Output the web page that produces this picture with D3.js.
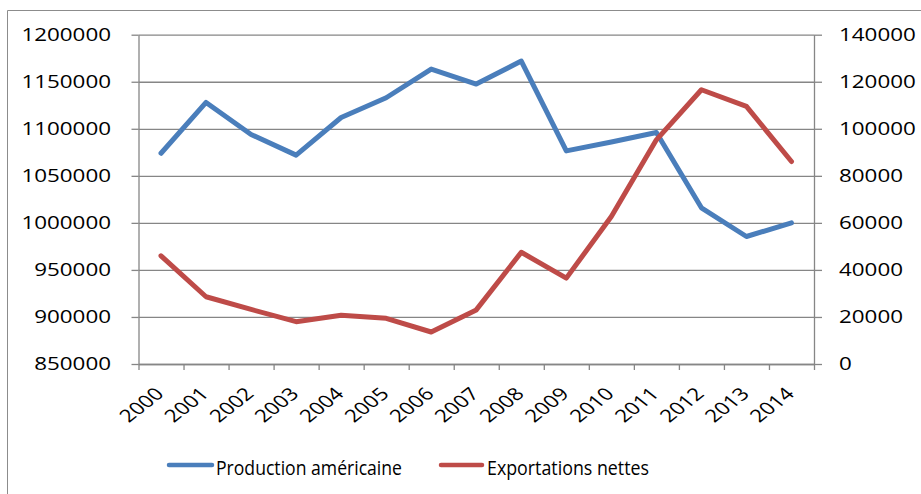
<!DOCTYPE html>
<html>
<head>
<meta charset="utf-8">
<script src="https://cdn.jsdelivr.net/npm/d3@7/dist/d3.min.js"></script>
<style>
  html, body { margin: 0; padding: 0; background: #fff; }
  svg { display: block; }
  text { font-family: "Open Sans", "Noto Sans", sans-serif; fill: #000; }
</style>
</head>
<body>
<svg id="chart" width="921" height="494"></svg>
<script>
// Années (catégories de l'axe horizontal)
const years = ["2000","2001","2002","2003","2004","2005","2006","2007","2008","2009","2010","2011","2012","2013","2014"];

// Production américaine (axe de gauche)
const production = [1074000, 1128000, 1094000, 1072000, 1112000, 1133000, 1163500, 1147500, 1172000, 1076500, 1086000, 1096000, 1016000, 985500, 1000000];

// Exportations nettes (axe de droite)
const exports = [46000, 28600, 23200, 18000, 20700, 19400, 13600, 23000, 47500, 36500, 62700, 95300, 116600, 109500, 86100];

// Graduations des deux axes verticaux
const leftTicks = [850000, 900000, 950000, 1000000, 1050000, 1100000, 1150000, 1200000];
const rightTicks = [0, 20000, 40000, 60000, 80000, 100000, 120000, 140000];

const seriesNames = ["Production américaine", "Exportations nettes"];
const seriesColors = ["#4A7EBB", "#BE4B48"];

const svg = d3.select("#chart");
const plot = { left: 138.5, right: 814, top: 34.7, bottom: 364 };
const stretch = 1.28;   // largeur des caractères
const axisColor = "#868686";

// Cadre extérieur du graphique
svg.append("path")
  .attr("d", "M7.5,494 L7.5,10.5 L921,10.5")
  .attr("fill", "none").attr("stroke", "#8c8c8c").attr("stroke-width", 1);

// Échelles
const x = d3.scaleBand().domain(years).range([plot.left, plot.right]);
const xEdges = d3.scaleLinear().domain([0, years.length]).range([plot.left, plot.right]);
const yL = d3.scaleLinear().domain([850000, 1200000]).range([plot.bottom, plot.top]);
const yR = d3.scaleLinear().domain([0, 140000]).range([plot.bottom, plot.top]);
const cx = d => x(d) + x.bandwidth() / 2;

// Quadrillage horizontal
svg.append("g")
  .attr("transform", `translate(${plot.left},0)`)
  .call(d3.axisLeft(yL).tickValues(leftTicks).tickSize(-(plot.right - plot.left)).tickFormat(""))
  .call(g => g.select(".domain").remove())
  .call(g => g.selectAll("line").attr("stroke", axisColor).attr("stroke-width", 1.3));

// Axe de gauche
svg.append("g")
  .attr("transform", `translate(${plot.left},0)`)
  .call(d3.axisLeft(yL).tickValues(leftTicks).tickSize(7).tickSizeOuter(0).tickFormat(""))
  .call(g => g.select(".domain").attr("stroke", axisColor).attr("stroke-width", 1.3))
  .call(g => g.selectAll("line").attr("stroke", axisColor).attr("stroke-width", 1.3));

// Axe de droite
svg.append("g")
  .attr("transform", `translate(${plot.right},0)`)
  .call(d3.axisRight(yR).tickValues(rightTicks).tickSize(8).tickSizeOuter(0).tickFormat(""))
  .call(g => g.select(".domain").attr("stroke", axisColor).attr("stroke-width", 1.3))
  .call(g => g.selectAll("line").attr("stroke", axisColor).attr("stroke-width", 1.3));

// Axe horizontal : graduations entre les catégories
svg.append("g")
  .attr("transform", `translate(0,${plot.bottom})`)
  .call(d3.axisBottom(xEdges).tickValues(d3.range(years.length + 1)).tickSize(6).tickSizeOuter(0).tickFormat(""))
  .call(g => g.select(".domain").attr("stroke", axisColor).attr("stroke-width", 1.3))
  .call(g => g.selectAll("line").attr("stroke", axisColor).attr("stroke-width", 1.3));

// Étiquettes de l'axe de gauche
svg.append("g").selectAll("text").data(leftTicks).join("text")
  .attr("transform", d => `translate(111,${yL(d)}) scale(${stretch},1)`)
  .attr("dy", "0.36em")
  .attr("text-anchor", "end")
  .attr("font-size", 17.5)
  .text(d => d3.format("d")(d));

// Étiquettes de l'axe de droite
svg.append("g").selectAll("text").data(rightTicks).join("text")
  .attr("transform", d => `translate(839,${yR(d)}) scale(${stretch},1)`)
  .attr("dy", "0.36em")
  .attr("text-anchor", "start")
  .attr("font-size", 17.5)
  .text(d => d3.format("d")(d));

// Années, inclinées à 45°
svg.append("g").selectAll("text").data(years).join("text")
  .attr("transform", d => `translate(${cx(d) + 4},${plot.bottom + 31}) scale(${stretch},1) rotate(-45)`)
  .attr("text-anchor", "end")
  .attr("font-size", 17.5)
  .text(d => d);

// Courbes
const lineL = d3.line().x((d, i) => cx(years[i])).y(d => yL(d));
const lineR = d3.line().x((d, i) => cx(years[i])).y(d => yR(d));

svg.append("path").datum(production)
  .attr("d", lineL)
  .attr("fill", "none").attr("stroke", seriesColors[0])
  .attr("stroke-width", 5).attr("stroke-linejoin", "round").attr("stroke-linecap", "round");

svg.append("path").datum(exports)
  .attr("d", lineR)
  .attr("fill", "none").attr("stroke", seriesColors[1])
  .attr("stroke-width", 5).attr("stroke-linejoin", "round").attr("stroke-linecap", "round");

// Légende
const legendItems = [
  { name: seriesNames[0], color: seriesColors[0], x0: 169, x1: 212, tx: 216, w: 186 },
  { name: seriesNames[1], color: seriesColors[1], x0: 441, x1: 482, tx: 487, w: 162 }
];
const legend = svg.append("g");
legend.selectAll("line").data(legendItems).join("line")
  .attr("x1", d => d.x0).attr("x2", d => d.x1)
  .attr("y1", 465).attr("y2", 465)
  .attr("stroke", d => d.color).attr("stroke-width", 4.5).attr("stroke-linecap", "round");
legend.selectAll("text").data(legendItems).join("text")
  .attr("x", d => d.tx).attr("y", 474.5)
  .attr("font-size", 20)
  .attr("textLength", d => d.w)
  .attr("lengthAdjust", "spacingAndGlyphs")
  .text(d => d.name);
</script>
</body>
</html>
